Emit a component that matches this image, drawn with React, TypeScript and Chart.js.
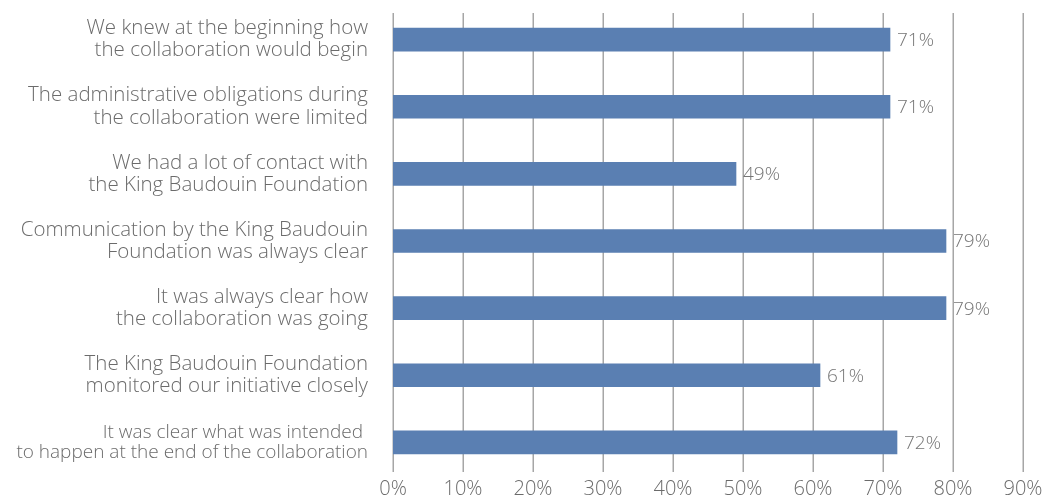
import React, { useEffect, useRef } from "react";
import { Chart, registerables } from "chart.js";
Chart.register(...registerables);

const categories: string[][] = [
  ["We knew at the beginning how", "the collaboration would begin"],
  ["The administrative obligations during", "the collaboration were limited"],
  ["We had a lot of contact with", "the King Baudouin Foundation"],
  ["Communication by the King Baudouin", "Foundation was always clear"],
  ["It was always clear how", "the collaboration was going"],
  ["The King Baudouin Foundation", "monitored our initiative closely"],
  ["It was clear what was intended ", "to happen at the end of the collaboration"],
];
const values: number[] = [71, 71, 49, 79, 79, 61, 72];
const xTicks: number[] = [0, 10, 20, 30, 40, 50, 60, 70, 80, 90];

const FONT = "'Open Sans'";
const TEXT = "#6b6b6b";

const gridPlugin = {
  id: "customGrid",
  beforeDatasetsDraw(chart: any) {
    const { ctx, scales } = chart;
    const x = scales.x;
    ctx.save();
    ctx.strokeStyle = "#a6a6a6";
    ctx.lineWidth = 1.5;
    xTicks.forEach((t) => {
      const px = Math.round(x.getPixelForValue(t)) + 0.25;
      ctx.beginPath();
      ctx.moveTo(px, 13);
      ctx.lineTo(px, 472);
      ctx.stroke();
    });
    ctx.restore();
  },
};

const labelPlugin = {
  id: "valueLabels",
  afterDatasetsDraw(chart: any) {
    const { ctx } = chart;
    const meta = chart.getDatasetMeta(0);
    ctx.save();
    ctx.fillStyle = "#757575";
    ctx.font = `300 19px ${FONT}`;
    ctx.textAlign = "left";
    ctx.textBaseline = "middle";
    meta.data.forEach((bar: any, i: number) => {
      ctx.fillText(values[i] + "%", bar.x + 7, bar.y + 1);
    });
    ctx.restore();
  },
};

export default function App() {
  const ref = useRef<HTMLCanvasElement>(null);
  useEffect(() => {
    document.body.style.margin = "0";
    const chart = new Chart(ref.current!, {
      type: "bar",
      data: {
        labels: categories,
        datasets: [
          {
            data: values,
            backgroundColor: "#5a7fb2",
            barThickness: 23,
          },
        ],
      },
      options: {
        indexAxis: "y",
        animation: false,
        responsive: false,
        layout: { padding: { top: 6, right: 24, left: 0, bottom: 0 } },
        plugins: { legend: { display: false }, tooltip: { enabled: false } },
        scales: {
          x: {
            min: 0,
            max: 90,
            afterBuildTicks(scale: any) {
              scale.ticks = xTicks.map((v) => ({ value: v }));
            },
            afterFit(scale: any) {
              scale.height = 23;
              scale.paddingLeft = 0;
              scale.paddingRight = 0;
            },
            grid: { display: false, drawTicks: false },
            border: { display: false },
            ticks: {
              padding: 1,
              color: TEXT,
              font: { family: FONT, size: 20, weight: 300 },
              callback: (v: any) => v + "%",
            },
          },
          y: {
            afterFit(scale: any) {
              scale.width = 393;
              scale.paddingTop = 0;
              scale.paddingBottom = 0;
            },
            grid: { display: false, drawTicks: false },
            border: { display: false },
            ticks: {
              padding: 25,
              color: TEXT,
              font: (c: any) => ({
                family: FONT,
                size: c.index === categories.length - 1 ? 19 : 20.5,
                weight: 300,
                lineHeight: 1.08,
              }),
            },
          },
        },
      },
      plugins: [gridPlugin, labelPlugin],
    });
    return () => chart.destroy();
  }, []);
  return <canvas ref={ref} width={1047} height={499} style={{ display: "block" }} />;
}
